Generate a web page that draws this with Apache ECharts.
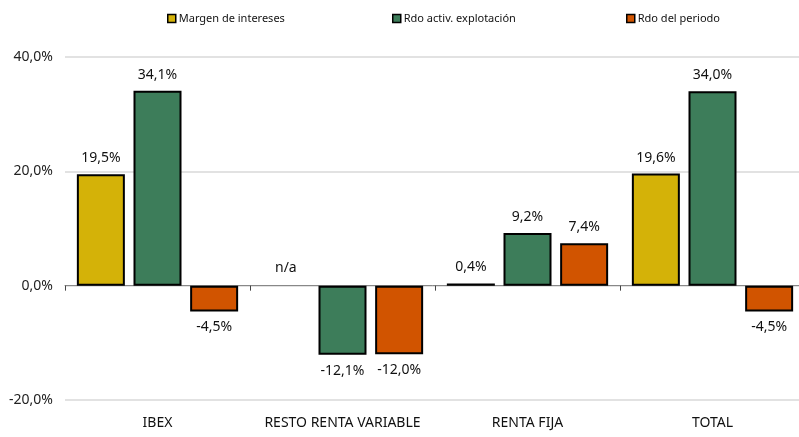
<!DOCTYPE html>
<html>
<head>
<meta charset="utf-8">
<script src="https://cdn.jsdelivr.net/npm/echarts@6/dist/echarts.min.js"></script>
<style>
    html, body { margin: 0; padding: 0; background: #fff; }
    #chart { width: 799px; height: 437px; }
</style>
</head>
<body>
<div id="chart"></div>
<script>
// 数据
const categories = ['IBEX', 'RESTO RENTA VARIABLE', 'RENTA FIJA', 'TOTAL'];
const seriesNames = ['Margen de intereses', 'Rdo activ. explotación', 'Rdo del periodo'];
const margenData = [19.5, null, 0.4, 19.6];
const explotacionData = [34.1, -12.1, 9.2, 34.0];
const periodoData = [-4.5, -12.0, 7.4, -4.5];
const yTicks = [-20, 0, 20, 40];

const colors = ['#d4b208', '#3d7d5a', '#d15400'];
const font = 'Noto Sans';

function fmt(v) {
    return v.toFixed(1).replace('.', ',') + '%';
}

// 负值标签放在柱下方, 空值显示 n/a
function buildItems(arr) {
    return arr.map(function(v) {
        if (v === null) {
            return {
                value: 0,
                itemStyle: { color: 'transparent', borderWidth: 0 },
                label: { formatter: 'n/a', position: 'top' }
            };
        }
        return {
            value: v,
            label: { position: v < 0 ? 'bottom' : 'top' }
        };
    });
}

function makeSeries(name, arr, i) {
    return {
        name: name,
        type: 'bar',
        xAxisIndex: 0,
        barWidth: 48,
        barGap: '18%',
        barMinHeight: 2,
        data: buildItems(arr),
        itemStyle: {
            color: colors[i],
            borderColor: '#000',
            borderWidth: 2
        },
        label: {
            show: true,
            distance: 9,
            fontFamily: font,
            fontSize: 14,
            color: '#111',
            formatter: function(p) { return fmt(p.value); }
        }
    };
}

const chart = echarts.init(document.getElementById('chart'));

const legendLeft = [162, 387, 621];
const option = {
    animation: false,
    backgroundColor: '#fff',
    legend: seriesNames.map(function(n, i) {
        return {
            data: [n],
            left: legendLeft[i],
            top: 8,
            icon: 'rect',
            itemWidth: 8,
            itemHeight: 8,
            itemGap: 4,
            itemStyle: { borderColor: '#000', borderWidth: 1.5 },
            textStyle: { fontFamily: font, fontSize: 11, color: '#111', padding: [0, 0, 0, -2] }
        };
    }),
    grid: {
        left: 65,
        top: 57,
        width: 740,
        height: 343,
        containLabel: false,
        outerBoundsMode: 'none'
    },
    xAxis: [
        {
            type: 'category',
            data: categories,
            axisLine: { onZero: true, lineStyle: { color: '#888', width: 1 } },
            axisTick: { show: true, interval: 0, length: 5, inside: false, lineStyle: { color: '#444' } },
            axisLabel: { show: false, interval: 0 }
        },
        {
            type: 'category',
            data: categories,
            position: 'bottom',
            axisLine: { show: false, onZero: false },
            axisTick: { show: false },
            axisLabel: {
                interval: 0,
                margin: 16,
                fontFamily: font,
                fontSize: 14,
                color: '#111'
            }
        }
    ],
    yAxis: {
        type: 'value',
        min: yTicks[0],
        max: yTicks[yTicks.length - 1],
        interval: 20,
        axisLine: { show: false },
        axisTick: { show: false },
        splitLine: { lineStyle: { color: '#d9d9d9', width: 1.5 } },
        axisLabel: {
            margin: 12,
            fontFamily: font,
            fontSize: 14,
            color: '#222',
            formatter: function(v) { return fmt(v); }
        }
    },
    series: [
        makeSeries(seriesNames[0], margenData, 0),
        makeSeries(seriesNames[1], explotacionData, 1),
        makeSeries(seriesNames[2], periodoData, 2)
    ]
};

chart.setOption(option);
</script>
</body>
</html>
